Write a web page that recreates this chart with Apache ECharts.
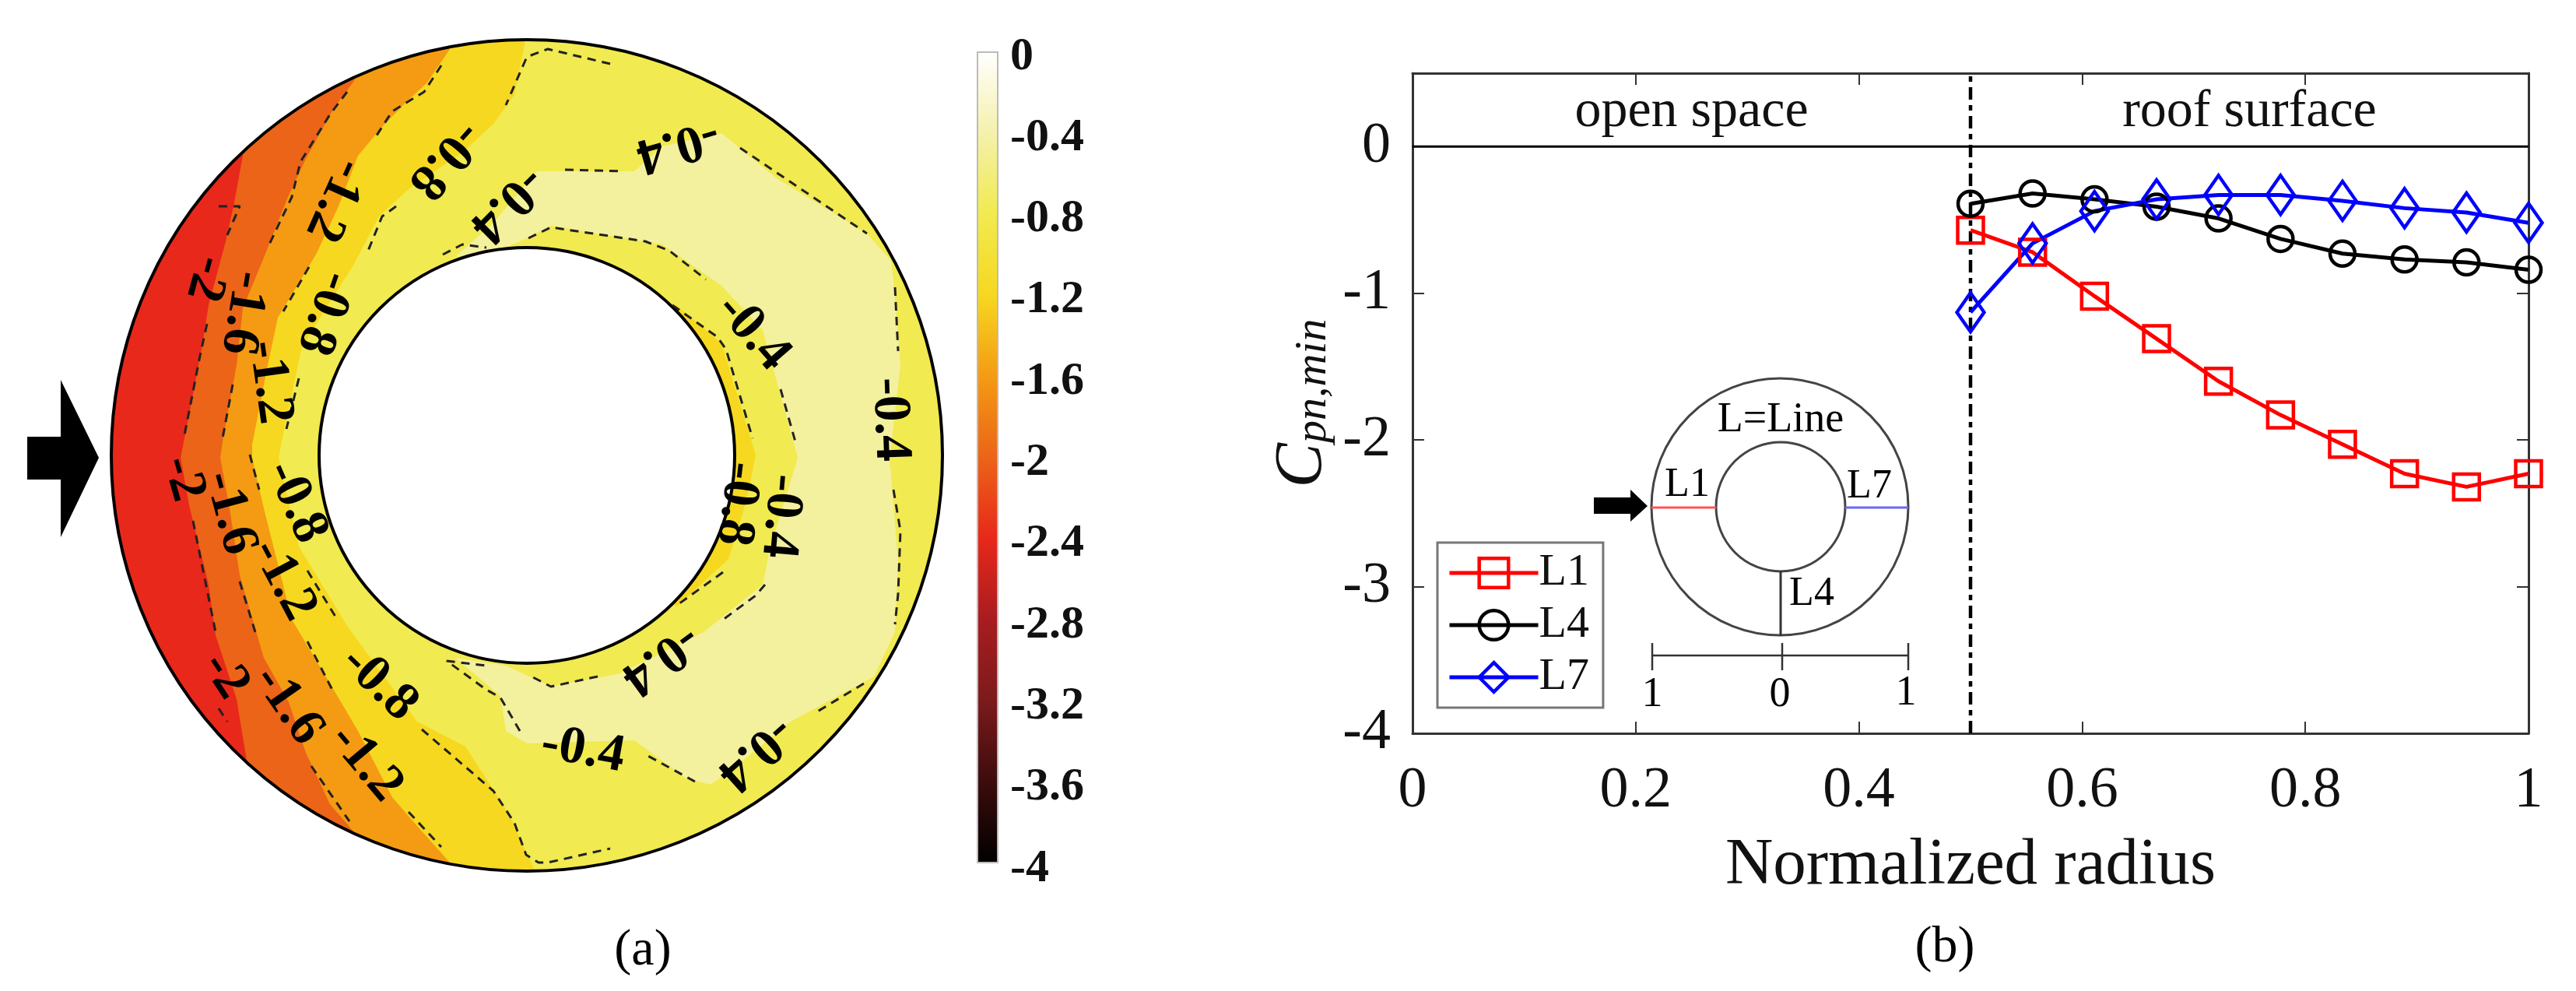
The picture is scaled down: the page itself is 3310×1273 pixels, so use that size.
<!DOCTYPE html>
<html>
<head>
<meta charset="utf-8">
<script src="https://cdn.jsdelivr.net/npm/echarts@6/dist/echarts.min.js"></script>
<style>
  html, body { margin: 0; padding: 0; background: #fff; }
  #chart { width: 3310px; height: 1273px; }
</style>
</head>
<body>
<div id="chart"></div>
<script>
// ---- panel (b) data ----
const radius = [0.5, 0.5556, 0.6111, 0.6667, 0.7222, 0.7778, 0.8333, 0.8889, 0.9444, 1];
const L1 = [-0.57, -0.72, -1.02, -1.31, -1.6, -1.83, -2.03, -2.23, -2.32, -2.23];
const L4 = [-0.39, -0.32, -0.36, -0.41, -0.49, -0.63, -0.73, -0.77, -0.79, -0.84];
const L7 = [-1.13, -0.66, -0.44, -0.36, -0.33, -0.33, -0.37, -0.42, -0.45, -0.52];
const yTicks = [-4, -3, -2, -1, 0];

// ---- panel (a) data: ring units, centre at 0, outer radius 534 ----
const ringRadii = [534, 267];
const edge2 = [[-400,560],[-365,385],[-377,320],[-387,275],[-409,193],[-418,136],[-440,22],[-445,-3],[-434,-64],[-409,-166],[-400,-231],[-373,-313],[-360,-392],[-400,-560]];
const edge16 = [[-200,560],[-222,481],[-248,446],[-284,381],[-307,332],[-338,254],[-365,189],[-373,116],[-391,18],[-394,-3],[-382,-68],[-369,-154],[-338,-260],[-306,-317],[-284,-382],[-253,-448],[-222,-484],[-200,-560]];
const edge12 = [[-85,560],[-99,522],[-128,479],[-155,454],[-186,422],[-217,385],[-242,320],[-271,258],[-320,177],[-333,116],[-353,14],[-353,-3],[-338,-68],[-302,-211],[-253,-293],[-217,-354],[-173,-439],[-141,-476],[-99,-523],[-85,-560]];
const edge8 = [[-3,560],[-3,528],[-16,463],[-43,426],[-83,389],[-150,344],[-190,307],[-222,246],[-289,140],[-315,18],[-319,-3],[-293,-117],[-231,-219],[-141,-342],[-79,-374],[-21,-464],[-3,-505],[10,-533],[10,-560]];
const innerPatch = [[192,193],[250,144],[294,1],[283,-55],[259,-133],[192,-195],[123,0]];
const paleBand = [[-92,255],[-43,299],[13,365],[138,365],[174,397],[250,414],[321,356],[437,285],[468,250],[471,226],[480,116],[466,-7],[468,-23],[477,-137],[473,-227],[446,-284],[339,-342],[259,-407],[236,-423],[205,-415],[138,-366],[0,-370],[-27,-354],[-34,-309],[-92,-260],[-27,-270],[31,-297],[120,-280],[227,-227],[303,-166],[312,-121],[348,-3],[321,95],[303,161],[250,218],[174,271],[31,295],[0,279],[-27,267]];

const contourLines = [
  // -2
  [[-396,320],[-369,320],[-385,283]],
  [[-411,169],[-420,128],[-440,26]],
  [[-429,-84],[-414,-158],[-400,-227]],
  [[-396,-325],[-385,-342]],
  // -1.6
  [[-231,467],[-253,438],[-291,377],[-302,332],[-333,267]],
  [[-378,91],[-391,22]],
  [[-369,-162],[-349,-227]],
  [[-277,-399],[-228,-470]],
  // -1.2
  [[-110,501],[-132,467],[-173,442],[-197,405]],
  [[-280,242],[-313,185]],
  [[-356,1],[-344,-44]],
  [[-282,-239],[-248,-305]],
  [[-152,-458],[-110,-503]],
  // -0.8
  [[107,503],[27,522],[0,512],[-27,450]],
  [[-168,320],[-186,307],[-204,263]],
  [[-293,99],[-309,34]],
  [[-282,-148],[-246,-207]],
  [[-135,-352],[-43,-431],[-16,-472],[-1,-513],[15,-523],[27,-523],[107,-505]],
  [[187,193],[245,152],[256,136],[290,22]],
  [[252,-150],[192,-193]],
  // -0.4
  [[49,367],[123,365]],
  [[274,395],[437,285]],
  [[473,216],[477,134]],
  [[471,-44],[480,-97],[477,-178],[473,-217]],
  [[433,-293],[370,-331]],
  [[216,-419],[152,-384]],
  [[-9,-354],[-34,-311],[-52,-301],[-103,-264],[-52,-270]],
  [[-108,258],[-83,271],[-52,267]],
  [[2,279],[31,293],[152,275],[183,263],[230,226]],
  [[326,85],[346,14]],
  [[306,-166],[294,-180],[252,-211]],
  [[91,-284],[31,-297],[2,-282]]
];

// x, y, text direction (degrees clockwise on screen), text
const contourLabels = [
  [-105,380,131.5,'-0.8'], [-246,328,114,'-1.2'], [-25,323,135,'-0.4'], [194,399,164,'-0.4'],
  [290,158,49,'-0.4'], [466,46,88,'-0.4'], [326,-78,95,'-0.4'], [270,-62,97,'-0.8'],
  [172,-261,144,'-0.4'], [294,-382,138,'-0.4'], [72,-379,10,'-0.4'], [-190,-293,44,'-0.8'],
  [-207,-395,50,'-1.2'], [-307,-321,55,'-1.6'], [-388,-283,57,'-2'], [-313,-160,62,'-1.2'],
  [-382,-74,75,'-1.6'], [-442,-30,74,'-2'], [-297,-60,66,'-0.8'], [-331,94,82,'-1.2'],
  [-365,183,99,'-1.6'], [-412,227,105,'-2'], [-260,183,109,'-0.8']
];

// colour bar
const barTicks = [0, -0.4, -0.8, -1.2, -1.6, -2, -2.4, -2.8, -3.2, -3.6, -4];
const barColors = ['#ffffff', '#f4f1ac', '#f1ea50', '#f6d820', '#f49b13', '#eb6418', '#e8281a', '#a81c20', '#7c1a1c', '#3c0c0c', '#000000'];

const serif = 'Liberation Serif';
const far = 600;
const regions = [
  [[-far,far],[far,far],[far,-far],[-far,-far]],
  edge2.concat([[far,-far],[far,far]]),
  edge16.concat([[far,-far],[far,far]]),
  edge12.concat([[far,-far],[far,far]]),
  edge8.concat([[far,-far],[far,far]]),
  innerPatch,
  paleBand
];
const regionColors = ['#e8281a', '#eb6418', '#f49b13', '#f6d820', '#f1ea50', '#f6d820', '#f3f09e'];

const myChart = echarts.init(document.getElementById('chart'), null, { renderer: 'canvas' });

function lineSeries(name, data, color, symbol, size) {
  return {
    name: name,
    type: 'line',
    xAxisIndex: 2,
    yAxisIndex: 2,
    data: radius.map((r, i) => [r, data[i]]),
    symbol: symbol,
    symbolSize: size,
    showAllSymbol: true,
    lineStyle: { color: color, width: 5 },
    itemStyle: { color: 'transparent', borderColor: color, borderWidth: 4.5 },
    z: 5
  };
}

const contourSeries = contourLines.map(seg => ({
  type: 'line',
  xAxisIndex: 0,
  yAxisIndex: 0,
  data: seg,
  symbol: 'none',
  silent: true,
  clip: false,
  lineStyle: { color: '#222', width: 3, type: [11, 8] },
  z: 4
}));

function txt(x, y, text, size) {
  return { type: 'text', x: x, y: y, style: { text: text, fontFamily: serif, fontSize: size, fill: '#000', align: 'center', verticalAlign: 'middle' } };
}

myChart.setOption({
  animation: false,
  backgroundColor: '#fff',
  grid: [
    { left: 143, top: 50, width: 1068, height: 1070 },
    { left: 1256, top: 67, width: 26, height: 1041 },
    { left: 1815, top: 94, width: 1434, height: 848 },
    { left: 1256, top: 73, width: 26, height: 1043 }
  ],
  xAxis: [
    { gridIndex: 0, type: 'value', min: -534, max: 534, show: false },
    { gridIndex: 1, type: 'value', min: 0, max: 1, show: false },
    {
      gridIndex: 2, type: 'value', min: 0, max: 1, interval: 0.2,
      splitLine: { show: false },
      axisLine: { onZero: false, lineStyle: { color: '#333', width: 3 } },
      axisTick: { inside: true, length: 15, lineStyle: { color: '#333', width: 2 } },
      axisLabel: { fontFamily: serif, fontSize: 74, color: '#111', margin: 38 },
      name: 'Normalized radius', nameLocation: 'middle', nameGap: 128,
      nameTextStyle: { fontFamily: serif, fontSize: 85, color: '#111' }
    },
    {
      gridIndex: 2, type: 'value', position: 'top', min: 0, max: 1, interval: 0.2,
      splitLine: { show: false }, axisLabel: { show: false },
      axisLine: { onZero: false, lineStyle: { color: '#333', width: 3 } },
      axisTick: { inside: true, length: 15, lineStyle: { color: '#333', width: 2 } }
    },
    { gridIndex: 3, type: 'value', min: 0, max: 1, show: false }
  ],
  yAxis: [
    { gridIndex: 0, type: 'value', min: -535, max: 535, show: false },
    {
      gridIndex: 1, type: 'value', position: 'right', min: -4, max: 0, interval: 0.4,
      splitLine: { show: false },
      axisLine: { show: true, onZero: false, lineStyle: { color: '#aaa', width: 2 } },
      axisTick: { show: true, inside: true, length: 9, lineStyle: { color: '#777', width: 2 } },
      axisLabel: { show: false }
    },
    {
      gridIndex: 2, type: 'value', min: -4, max: 0.5,
      splitLine: { show: false },
      axisLine: { show: true, onZero: false, lineStyle: { color: '#333', width: 3 } },
      axisTick: { show: true, inside: true, length: 15, customValues: yTicks, lineStyle: { color: '#333', width: 2 } },
      axisLabel: { fontFamily: serif, fontSize: 74, color: '#111', margin: 28, customValues: yTicks },
      name: '{c|C}{s|pn,min}', nameLocation: 'middle', nameRotate: 90, nameGap: 98,
      nameTextStyle: {
        rich: {
          c: { fontFamily: serif, fontSize: 86, fontStyle: 'italic', color: '#111', verticalAlign: 'bottom' },
          s: { fontFamily: serif, fontSize: 58, fontStyle: 'italic', color: '#111', verticalAlign: 'bottom' }
        }
      }
    },
    {
      gridIndex: 2, type: 'value', position: 'right', min: -4, max: 0.5,
      splitLine: { show: false }, axisLabel: { show: false },
      axisLine: { show: true, onZero: false, lineStyle: { color: '#333', width: 3 } },
      axisTick: { show: true, inside: true, length: 15, customValues: yTicks, lineStyle: { color: '#333', width: 2 } }
    },
    // colour bar labels sit a little below their ticks in the reference
    {
      gridIndex: 3, type: 'value', position: 'right', min: -4, max: 0, interval: 0.4,
      splitLine: { show: false },
      axisLine: { show: false },
      axisTick: { show: false },
      axisLabel: {
        fontFamily: serif, fontSize: 60, fontWeight: 'bold', color: '#111', margin: 16,
        customValues: barTicks, formatter: v => String(Math.round(v * 10) / 10)
      }
    }
  ],
  legend: {
    orient: 'vertical',
    left: 1847, top: 697,
    padding: [10, 18, 10, 13],
    data: ['L1', 'L4', 'L7'],
    itemWidth: 114, itemHeight: 47, itemGap: 9,
    borderColor: '#777', borderWidth: 3,
    selectedMode: false,
    lineStyle: { width: 5 },
    itemStyle: { borderWidth: 4.5 },
    textStyle: { fontFamily: serif, fontSize: 58, color: '#111', padding: [0, 0, 0, -4] }
  },
  series: [
    // contour bands, painted from the lowest level up and clipped to the ring
    {
      type: 'custom',
      xAxisIndex: 0, yAxisIndex: 0,
      data: regions.map((r, i) => [0, 0, i]),
      silent: true,
      z: 1,
      renderItem: function (params, api) {
        const c = api.coord([0, 0]);
        return {
          type: 'polygon',
          shape: { points: regions[params.dataIndex].map(p => api.coord(p)) },
          style: { fill: regionColors[params.dataIndex] },
          clipPath: { type: 'circle', shape: { cx: c[0], cy: c[1], r: api.size([ringRadii[0], 0])[0] } }
        };
      }
    },
    // ring outline and hole
    {
      type: 'custom',
      xAxisIndex: 0, yAxisIndex: 0,
      data: ringRadii.map((r, i) => [0, 0, i]),
      silent: true,
      z: 3,
      renderItem: function (params, api) {
        const c = api.coord([0, 0]);
        return {
          type: 'circle',
          shape: { cx: c[0], cy: c[1], r: api.size([ringRadii[params.dataIndex], 0])[0] },
          style: { fill: params.dataIndex ? '#fff' : 'none', stroke: '#000', lineWidth: 4 }
        };
      }
    }
  ].concat(contourSeries, [
    // contour labels
    {
      type: 'custom',
      xAxisIndex: 0, yAxisIndex: 0,
      data: contourLabels.map(l => [l[0], l[1]]),
      silent: true,
      z: 6,
      renderItem: function (params, api) {
        const l = contourLabels[params.dataIndex];
        const p = api.coord([l[0], l[1]]);
        return {
          type: 'text',
          x: p[0], y: p[1],
          rotation: -l[2] * Math.PI / 180,
          style: { text: l[3], fontFamily: serif, fontSize: 68, fontWeight: 'bold', fill: '#000', align: 'center', verticalAlign: 'middle' }
        };
      }
    },
    // colour bar
    {
      type: 'custom',
      xAxisIndex: 1, yAxisIndex: 1,
      data: [[0, -4]],
      silent: true,
      renderItem: function (params, api) {
        const a = api.coord([0, 0]);
        const b = api.coord([1, -4]);
        return {
          type: 'rect',
          shape: { x: a[0], y: a[1], width: b[0] - a[0], height: b[1] - a[1] },
          style: {
            stroke: '#bbb',
            lineWidth: 2,
            fill: new echarts.graphic.LinearGradient(0, 0, 0, 1,
              barTicks.map((t, i) => ({ offset: -t / 4, color: barColors[i] })))
          }
        };
      }
    },
    // panel (b)
    lineSeries('L1', L1, '#ff0000', 'rect', 33),
    lineSeries('L4', L4, '#000000', 'circle', 32),
    lineSeries('L7', L7, '#0000ff', 'diamond', [35, 50]),
    {
      type: 'line', xAxisIndex: 2, yAxisIndex: 2,
      data: [[0, 0], [1, 0]], symbol: 'none', silent: true,
      lineStyle: { color: '#000', width: 3 }, z: 3
    },
    {
      type: 'line', xAxisIndex: 2, yAxisIndex: 2,
      data: [[0.5, -4], [0.5, 0.5]], symbol: 'none', silent: true,
      lineStyle: { color: '#000', width: 4.5, type: [16, 7, 7, 7] }, z: 3
    },
    {
      type: 'scatter', xAxisIndex: 2, yAxisIndex: 2,
      data: [[0.25, 0.235, 'open space'], [0.75, 0.235, 'roof surface']],
      symbolSize: 0, silent: true,
      itemStyle: { opacity: 1 },
      label: {
        show: true, position: 'inside', formatter: p => p.data[2],
        fontFamily: serif, fontSize: 68, color: '#111'
      }
    }
  ]),
  graphic: [
    // wind arrow, panel (a)
    { type: 'polygon', shape: { points: [[35, 561], [78, 561], [78, 488], [127, 588], [78, 690], [78, 616], [35, 616]] }, style: { fill: '#000' } },
    txt(826, 1222, '(a)', 66),
    txt(2499, 1218, '(b)', 66),
    // inset sketch
    { type: 'circle', shape: { cx: 2287, cy: 651, r: 165 }, style: { fill: 'none', stroke: '#444', lineWidth: 3 } },
    { type: 'circle', shape: { cx: 2288, cy: 651, r: 83 }, style: { fill: 'none', stroke: '#444', lineWidth: 3 } },
    { type: 'line', shape: { x1: 2122, y1: 652, x2: 2205, y2: 652 }, style: { stroke: '#f55', lineWidth: 3 } },
    { type: 'line', shape: { x1: 2371, y1: 652, x2: 2452, y2: 652 }, style: { stroke: '#6a6af0', lineWidth: 3 } },
    { type: 'line', shape: { x1: 2288, y1: 733, x2: 2288, y2: 817 }, style: { stroke: '#333', lineWidth: 3 } },
    { type: 'polygon', shape: { points: [[2048, 639], [2095, 639], [2095, 629], [2117, 650], [2095, 670], [2095, 660], [2048, 660]] }, style: { fill: '#000' } },
    { type: 'line', shape: { x1: 2123, y1: 842, x2: 2452, y2: 842 }, style: { stroke: '#333', lineWidth: 2.5 } },
    { type: 'line', shape: { x1: 2123, y1: 826, x2: 2123, y2: 861 }, style: { stroke: '#333', lineWidth: 2.5 } },
    { type: 'line', shape: { x1: 2290, y1: 826, x2: 2290, y2: 861 }, style: { stroke: '#333', lineWidth: 2.5 } },
    { type: 'line', shape: { x1: 2452, y1: 826, x2: 2452, y2: 861 }, style: { stroke: '#333', lineWidth: 2.5 } },
    txt(2288, 540, 'L=Line', 54),
    txt(2168, 623, 'L1', 52),
    txt(2402, 625, 'L7', 52),
    txt(2328, 763, 'L4', 52),
    txt(2123, 893, '1', 54),
    txt(2287, 893, '0', 54),
    txt(2449, 891, '1', 54)
  ]
});
</script>
</body>
</html>
